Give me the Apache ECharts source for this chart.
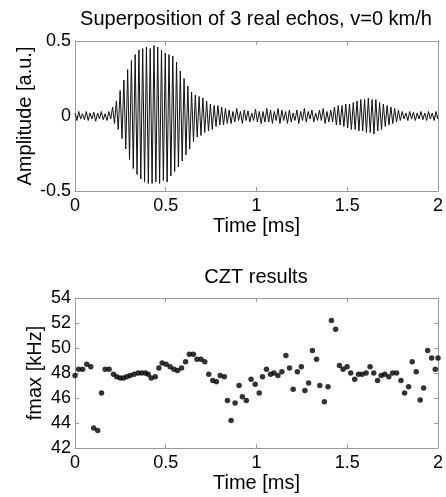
<!DOCTYPE html>
<html>
<head>
<meta charset="utf-8">
<script src="https://cdn.jsdelivr.net/npm/echarts@6/dist/echarts.min.js"></script>
<style>html,body{margin:0;padding:0;background:#fff;}#c{width:446px;height:497px;}</style>
</head>
<body>
<div id="c"></div>
<script>
const waveStep = 0.01036; // ms between samples
const waveAmp = [
  0.02,-0.03, 0.03,-0.02, 0.015,-0.025, 0.03,-0.03, 0.02,-0.02,
  0.025,-0.035, 0.02,-0.02, 0.03,-0.025, 0.015,-0.03, 0.03,-0.02,
  0.06,-0.05, 0.10,-0.09, 0.17,-0.15, 0.24,-0.22, 0.31,-0.29,
  0.37,-0.35, 0.41,-0.39, 0.44,-0.42, 0.45,-0.44, 0.46,-0.45,
  0.45,-0.45, 0.47,-0.44, 0.46,-0.45, 0.44,-0.43, 0.42,-0.44,
  0.41,-0.40, 0.40,-0.37, 0.36,-0.34, 0.30,-0.30, 0.25,-0.26,
  0.20,-0.22, 0.16,-0.17, 0.14,-0.14, 0.13,-0.13, 0.12,-0.11,
  0.10,-0.10, 0.08,-0.09, 0.07,-0.07, 0.07,-0.06, 0.06,-0.06,
  0.05,-0.05, 0.04,-0.05, 0.03,-0.04, 0.05,-0.03, 0.03,-0.05,
  0.04,-0.03, 0.035,-0.04, 0.02,-0.03, 0.045,-0.04, 0.03,-0.05,
  0.03,-0.04, 0.05,-0.04, 0.04,-0.05, 0.03,-0.03, 0.05,-0.05,
  0.04,-0.03, 0.03,-0.05, 0.04,-0.04, 0.02,-0.03, 0.04,-0.05,
  0.03,-0.03, 0.05,-0.04, 0.03,-0.02, 0.04,-0.04, 0.02,-0.03,
  0.04,-0.03, 0.05,-0.05, 0.03,-0.04, 0.04,-0.04, 0.06,-0.06,
  0.07,-0.06, 0.07,-0.07, 0.08,-0.08, 0.08,-0.09, 0.09,-0.09,
  0.10,-0.10, 0.11,-0.10, 0.11,-0.11, 0.12,-0.11, 0.11,-0.12,
  0.11,-0.10, 0.09,-0.09, 0.08,-0.07, 0.07,-0.06, 0.06,-0.05,
  0.05,-0.04, 0.04,-0.03, 0.03,-0.02, 0.02,-0.03, 0.03,-0.02,
  0.025,-0.03, 0.02,-0.02, 0.03,-0.025, 0.02,-0.03, 0.03,-0.02,
  0.02,-0.03, 0.03,-0.02
];

// ---- Bottom panel: CZT peak frequency estimates ----
const cztTime = [
  0.0,0.02,0.042,0.065,0.087,0.103,0.125,0.146,0.166,0.188,
  0.212,0.23,0.249,0.267,0.285,0.304,0.326,0.348,0.368,0.388,
  0.403,0.42,0.442,0.462,0.48,0.502,0.524,0.545,0.565,0.587,
  0.609,0.63,0.652,0.672,0.694,0.715,0.737,0.759,0.779,0.8,
  0.823,0.84,0.86,0.882,0.904,0.922,0.944,0.97,0.993,1.015,
  1.033,1.055,1.077,1.096,1.118,1.14,1.162,1.182,1.202,1.225,
  1.247,1.267,1.287,1.308,1.331,1.349,1.374,1.394,1.413,1.436,
  1.457,1.477,1.499,1.519,1.541,1.562,1.582,1.604,1.626,1.646,
  1.667,1.687,1.707,1.729,1.75,1.772,1.796,1.816,1.838,1.858,
  1.88,1.902,1.921,1.943,1.965,1.985,2.0
];
const cztFreq = [
  47.8,48.3,48.3,48.7,48.5,43.6,43.4,46.4,48.3,48.3,
  47.9,47.7,47.6,47.6,47.7,47.8,47.9,48.0,48.0,48.0,
  47.9,47.6,47.7,48.4,48.8,48.7,48.5,48.3,48.2,48.4,
  48.9,49.5,49.5,49.1,49.1,48.9,47.9,47.4,47.3,47.8,
  47.7,45.8,44.2,45.6,47.0,46.1,45.8,47.5,47.1,46.4,
  47.7,48.3,47.9,48.0,47.8,48.1,49.4,48.4,46.7,48.1,
  48.5,46.6,47.2,49.8,49.1,47.0,45.7,46.9,52.2,51.5,
  48.6,48.3,48.5,48.0,47.5,47.9,47.9,48.0,48.5,48.0,
  47.4,47.8,47.9,47.7,48.0,48.0,47.4,46.4,46.9,48.9,
  48.1,45.85,46.8,49.8,49.2,48.3,49.2
];

const xTicks = { min: 0, max: 2, interval: 0.5 };
const ampTicks = { min: -0.5, max: 0.5, interval: 0.5 };
const freqTicks = { min: 42, max: 54, interval: 2 };

const FONT = "'Liberation Sans', Arial, sans-serif";
const BOX = '#9a9a9a';

const waveData = waveAmp.map((v, i) => [i * waveStep, v]);
const cztData = cztTime.map((t, i) => [t, cztFreq[i]]);

function xAx(grid, pos, showLabels, name) {
  return {
    type: 'value', gridIndex: grid, position: pos,
    min: xTicks.min, max: xTicks.max, interval: xTicks.interval,
    name: name || '', nameLocation: 'middle', nameGap: 25, nameMoveOverlap: false,
    nameTextStyle: { fontFamily: FONT, fontSize: 20, color: '#000' },
    axisLine: { show: true, onZero: false, lineStyle: { color: BOX, width: 1 } },
    axisTick: { show: true, inside: true, length: 4, lineStyle: { color: BOX } },
    axisLabel: { show: showLabels, margin: 6, fontFamily: FONT, fontSize: 18, color: '#000',
      showMinLabel: true, showMaxLabel: true },
    splitLine: { show: false }
  };
}
function yAx(grid, pos, ticks, showLabels, name, gap) {
  return {
    type: 'value', gridIndex: grid, position: pos,
    min: ticks.min, max: ticks.max, interval: ticks.interval,
    name: name || '', nameLocation: 'middle', nameGap: gap || 30, nameMoveOverlap: false,
    nameTextStyle: { fontFamily: FONT, fontSize: 20, color: '#000' },
    axisLine: { show: true, onZero: false, lineStyle: { color: BOX, width: 1 } },
    axisTick: { show: true, inside: true, length: 4, lineStyle: { color: BOX } },
    axisLabel: { show: showLabels, margin: 4, fontFamily: FONT, fontSize: 18, color: '#000',
      showMinLabel: true, showMaxLabel: true },
    splitLine: { show: false }
  };
}

const chart = echarts.init(document.getElementById('c'), null, { renderer: 'canvas' });
chart.setOption({
  backgroundColor: '#fff',
  animation: false,
  title: [
    { text: 'Superposition of 3 real echos, v=0 km/h', left: 256, top: 9, padding: 0, textAlign: 'center',
      textStyle: { fontFamily: FONT, fontSize: 20, fontWeight: 'normal', color: '#000' } },
    { text: 'CZT results', left: 256, top: 267, padding: 0, textAlign: 'center',
      textStyle: { fontFamily: FONT, fontSize: 20, fontWeight: 'normal', color: '#000' } }
  ],
  grid: [
    { left: 75, top: 41, width: 363, height: 150, show: false },
    { left: 75, top: 298, width: 363, height: 150, show: false }
  ],
  xAxis: [
    xAx(0, 'bottom', true, 'Time [ms]'),
    xAx(0, 'top', false),
    xAx(1, 'bottom', true, 'Time [ms]'),
    xAx(1, 'top', false)
  ],
  yAxis: [
    yAx(0, 'left', ampTicks, true, 'Amplitude [a.u.]', 40),
    yAx(0, 'right', ampTicks, false),
    yAx(1, 'left', freqTicks, true, 'fmax [kHz]', 30),
    yAx(1, 'right', freqTicks, false)
  ],
  series: [
    { type: 'line', xAxisIndex: 0, yAxisIndex: 0, data: waveData, showSymbol: false,
      lineStyle: { color: '#111', width: 1 }, silent: true, clip: true },
    { type: 'scatter', xAxisIndex: 2, yAxisIndex: 2, data: cztData, symbol: 'circle', symbolSize: 5.5,
      itemStyle: { color: '#000' }, silent: true, clip: false }
  ]
});
</script>
</body>
</html>
